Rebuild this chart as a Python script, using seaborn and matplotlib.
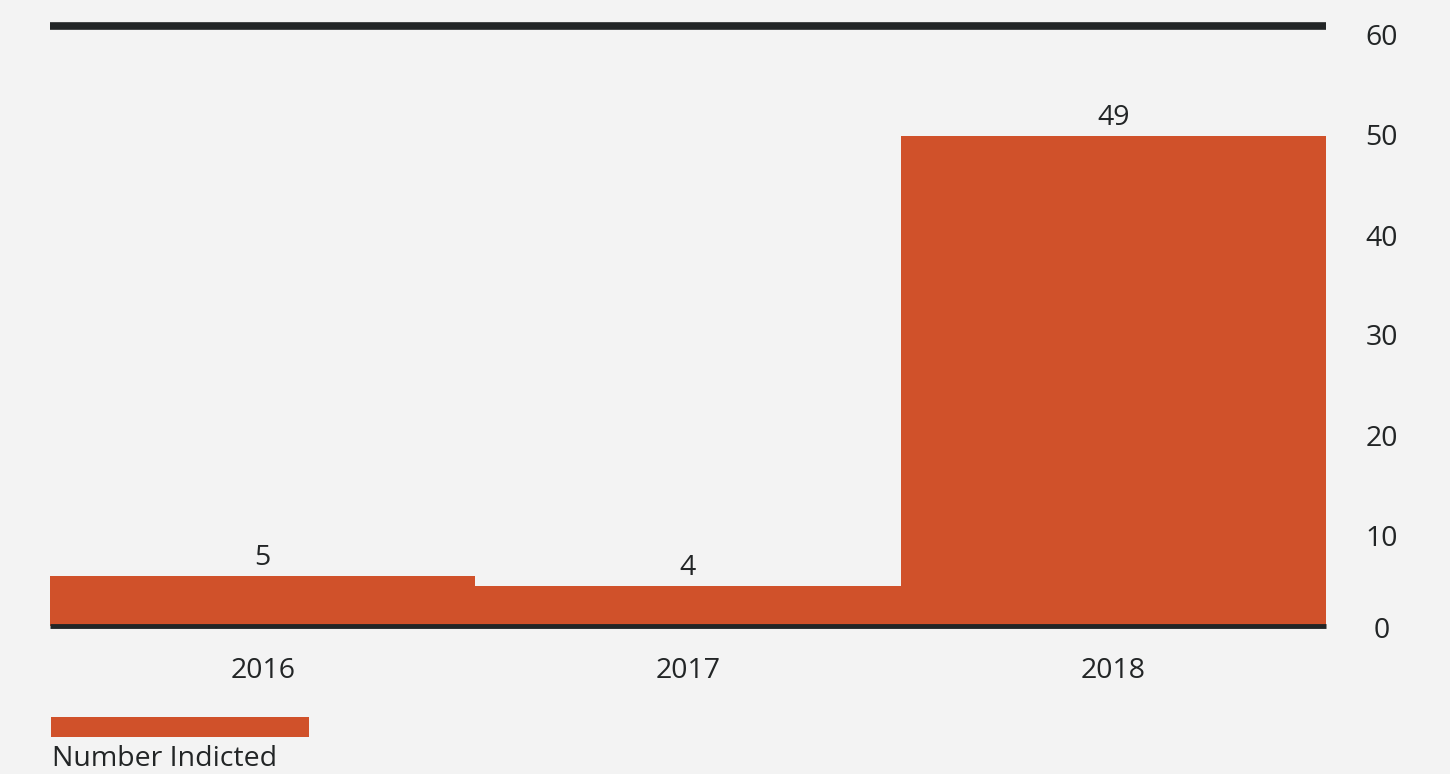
import pandas as pd
import matplotlib.pyplot as plt
import matplotlib.transforms as mtransforms
import seaborn as sns
from matplotlib.patches import Rectangle

# Data
years = ["2016", "2017", "2018"]
indicted = [5, 4, 49]
y_ticks = [0, 10, 20, 30, 40, 50, 60]

bar_color = "#D0512A"
bg_color = "#F3F3F3"
ink = "#222526"

sns.set_theme(style="white")
plt.rcParams['font.family'] = ['Open Sans', 'DejaVu Sans']

df = pd.DataFrame({"Year": years, "Number Indicted": indicted})

fig = plt.figure(figsize=(14.5, 7.74), dpi=100, facecolor=bg_color)
ax = fig.add_axes([50 / 1450, 148 / 774, 1276 / 1450, 600 / 774])
ax.set_facecolor(bg_color)

sns.barplot(data=df, x="Year", y="Number Indicted", color=bar_color,
            width=1, saturation=1, linewidth=0, ax=ax)

ax.set_xlim(-0.5, 2.5)
ax.set_ylim(0, 60)
ax.set_xlabel("")
ax.set_ylabel("")

# Bar value labels
ax.bar_label(ax.containers[0], labels=[str(v) for v in indicted],
             padding=3, fontsize=20.5, color=ink)

# Spines: thick rule on top, baseline at bottom
for side in ["left", "right"]:
    ax.spines[side].set_visible(False)
ax.spines["top"].set_linewidth(5.5)
ax.spines["top"].set_color(ink)
ax.spines["top"].set_capstyle("butt")
ax.spines["bottom"].set_linewidth(3.5)
ax.spines["bottom"].set_color(ink)
ax.spines["bottom"].set_capstyle("butt")
ax.spines["bottom"].set_zorder(5)

# Y axis on the right
ax.yaxis.tick_right()
ax.set_yticks(y_ticks)
ax.tick_params(axis="y", length=0, pad=40, labelsize=20.5, labelcolor=ink)
for lbl, v in zip(ax.get_yticklabels(), y_ticks):
    lbl.set_horizontalalignment("center")
    dy = -2 if v == 0 else -9
    lbl.set_transform(lbl.get_transform() +
                      mtransforms.ScaledTranslation(0, dy / 100, fig.dpi_scale_trans))
ax.tick_params(axis="x", length=0, pad=22, labelsize=20.5, labelcolor=ink)

# Legend
fig.add_artist(Rectangle((51 / 1450, 1 - 737 / 774), 258 / 1450, 20 / 774,
                         transform=fig.transFigure, facecolor=bar_color,
                         edgecolor="none"))
fig.text(52 / 1450, 1 - 759 / 774, "Number Indicted", fontsize=20.5,
         color=ink, ha="left", va="center")

fig.savefig("out.png", dpi=100, facecolor=bg_color)
